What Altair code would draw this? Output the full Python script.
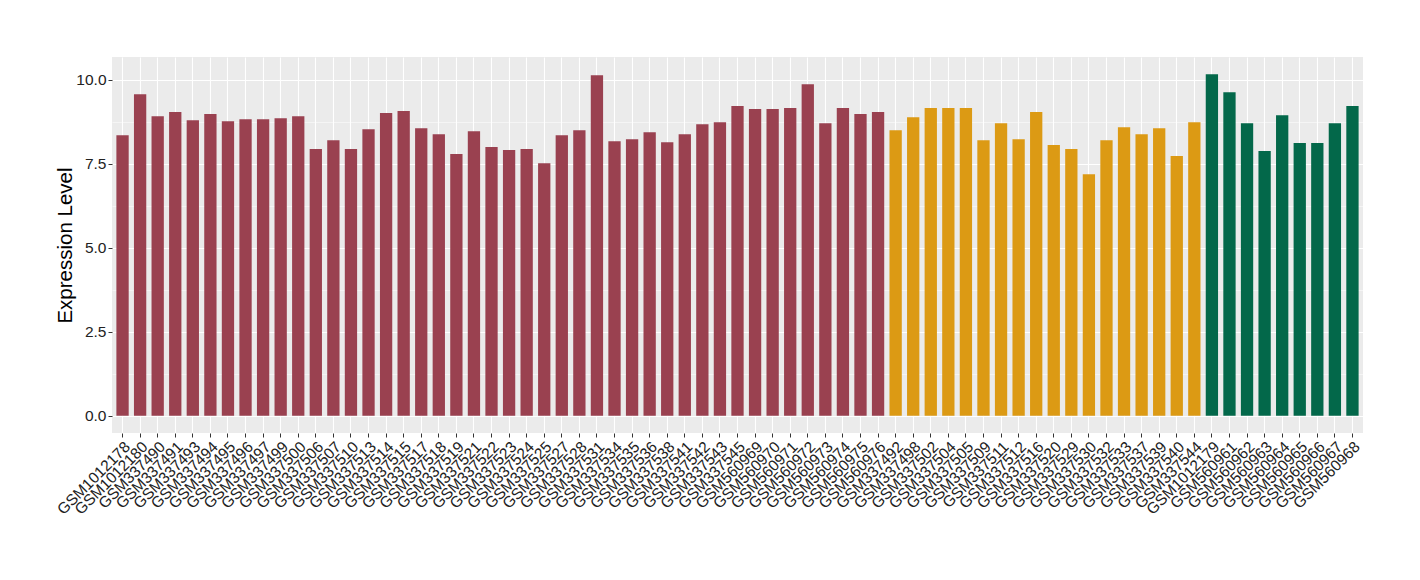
import altair as alt
import pandas as pd

samples_a = ["GSM1012178", "GSM1012180", "GSM337490", "GSM337491", "GSM337493", "GSM337494",
             "GSM337495", "GSM337496", "GSM337497", "GSM337499", "GSM337500", "GSM337506",
             "GSM337507", "GSM337510", "GSM337513", "GSM337514", "GSM337515", "GSM337517",
             "GSM337518", "GSM337519", "GSM337521", "GSM337522", "GSM337523", "GSM337524",
             "GSM337525", "GSM337527", "GSM337528", "GSM337531", "GSM337534", "GSM337535",
             "GSM337536", "GSM337538", "GSM337541", "GSM337542", "GSM337543", "GSM337545",
             "GSM560969", "GSM560970", "GSM560971", "GSM560972", "GSM560973", "GSM560974",
             "GSM560975", "GSM560976"]
values_a = [8.35, 9.57, 8.92, 9.04, 8.80, 8.98, 8.77, 8.83, 8.83, 8.86, 8.92, 7.94,
            8.20, 7.94, 8.53, 9.01, 9.07, 8.56, 8.38, 7.79, 8.47, 8.00, 7.91, 7.94,
            7.52, 8.35, 8.50, 10.14, 8.17, 8.23, 8.44, 8.14, 8.38, 8.68, 8.74, 9.22,
            9.13, 9.13, 9.16, 9.87, 8.71, 9.16, 8.98, 9.04]

samples_b = ["GSM337492", "GSM337498", "GSM337502", "GSM337504", "GSM337505", "GSM337509",
             "GSM337511", "GSM337512", "GSM337516", "GSM337520", "GSM337529", "GSM337530",
             "GSM337532", "GSM337533", "GSM337537", "GSM337539", "GSM337540", "GSM337544"]
values_b = [8.50, 8.89, 9.16, 9.16, 9.16, 8.20, 8.71, 8.23, 9.04, 8.06, 7.94, 7.19,
            8.20, 8.59, 8.38, 8.56, 7.73, 8.74]

samples_c = ["GSM1012179", "GSM560961", "GSM560962", "GSM560963", "GSM560964", "GSM560965",
             "GSM560966", "GSM560967", "GSM560968"]
values_c = [10.17, 9.63, 8.71, 7.88, 8.95, 8.12, 8.12, 8.71, 9.22]

groups = ["A", "B", "C"]
colors = ["#9A4150", "#DC9A14", "#03684A"]

df = pd.DataFrame({
    "sample": samples_a + samples_b + samples_c,
    "value": values_a + values_b + values_c,
    "group": [groups[0]] * len(samples_a) + [groups[1]] * len(samples_b) + [groups[2]] * len(samples_c),
})
order = list(df["sample"])

y_ticks = [0, 1.25, 2.5, 3.75, 5, 6.25, 7.5, 8.75, 10]

chart = alt.Chart(df).mark_bar().encode(
    x=alt.X("sample:N", sort=order, title=None,
            scale=alt.Scale(paddingInner=0.3, paddingOuter=0.25),
            axis=alt.Axis(labelAngle=315, labelAlign="right", labelBaseline="top",
                          labelFontSize=15.5, labelColor="#222222", labelFont="Liberation Sans",
                          labelPadding=2, tickSize=4, tickColor="#333333", tickWidth=1,
                          grid=True, gridColor="white", gridWidth=1.1, bandPosition=0.5,
                          domain=False, labelOverlap=False)),
    y=alt.Y("value:Q", title="Expression Level",
            scale=alt.Scale(domain=[-0.51, 10.68], nice=False, zero=False),
            axis=alt.Axis(values=y_ticks,
                          labelExpr="datum.value % 2.5 == 0 ? format(datum.value, '.1f') : ''",
                          labelFontSize=15.5, labelColor="#222222", labelFont="Liberation Sans",
                          labelPadding=2, tickSize=4, tickColor="#333333", tickWidth=1,
                          tickOpacity={"condition": {"test": "datum.value % 2.5 == 0", "value": 1}, "value": 0},
                          grid=True, gridColor="white",
                          gridWidth={"condition": {"test": "datum.value % 2.5 == 0", "value": 1.1}, "value": 0.5},
                          domain=False, titleFont="Liberation Sans", titleFontSize=20.5,
                          titleFontWeight="normal", titleColor="black", titlePadding=0)),
    color=alt.Color("group:N", scale=alt.Scale(domain=groups, range=colors), legend=None),
).properties(
    width=1251, height=376,
    autosize=alt.AutoSizeParams(type="none"),
    padding={"left": 104, "top": 49, "right": 30, "bottom": 100},
).configure_view(fill="#EBEBEB", stroke=None)

chart.save("out.html", embed_options={"renderer": "svg", "actions": False})
